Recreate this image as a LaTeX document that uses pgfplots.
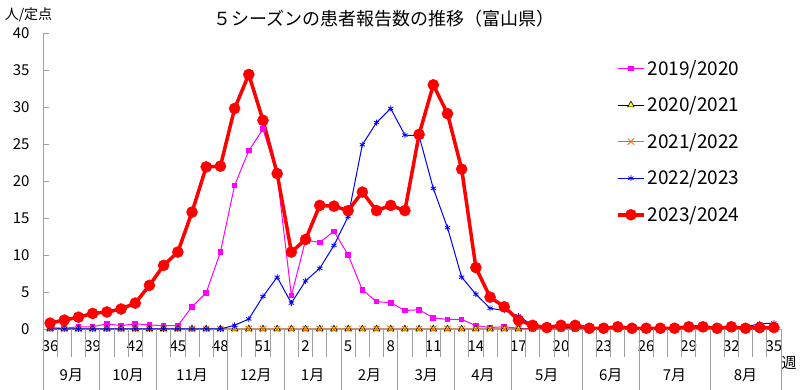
\documentclass[border=0pt]{standalone}
\usepackage{fontspec}
\setmainfont{Noto Sans CJK JP}
\usepackage{pgfplots}
\pgfplotsset{compat=1.18}
\definecolor{cmag}{RGB}{255,0,255}
\definecolor{corange}{RGB}{255,102,0}
\definecolor{cblue}{RGB}{0,0,255}
\definecolor{cred}{RGB}{255,0,0}
\definecolor{cyel}{RGB}{255,255,0}
\definecolor{caxis}{RGB}{160,160,160}
\begin{document}
\begin{tikzpicture}
\useasboundingbox (0,0) rectangle (800pt,390pt);
\node[font=\fontsize{18}{20}\selectfont] at (384pt,371pt) {５シーズンの患者報告数の推移（富山県）};
\node[font=\fontsize{14}{16}\selectfont] at (28.5pt,375pt) {人/定点};
\begin{axis}[
 at={(43pt,61pt)}, anchor=south west, width=738pt, height=296pt, scale only axis,
 xmin=-0.5, xmax=51.5, ymin=0, ymax=40, clip=false,
 axis x line=bottom, axis y line=left, axis line style={caxis,-},
 tick align=inside, major tick length=6pt,
 ytick={0,5,...,40}, ytick style={caxis},
 xtick={0,3,...,51},
 xticklabels={36,39,42,45,48,51,2,5,8,11,14,17,20,23,26,29,32,35},
 xtick style={draw=none},
 ticklabel style={font=\fontsize{15}{17}\selectfont},
 /pgf/number format/assume math mode=true,
 xticklabel style={anchor=base, yshift=-23pt},
 yticklabel style={anchor=east, xshift=-10pt},
 legend style={at={(rel axis cs:0.7764,0.909)}, anchor=north west, draw=none, fill=none,
   font=\fontsize{19}{22}\selectfont, row sep=20pt, inner sep=0pt,
   nodes={inner xsep=2pt, inner ysep=0pt}},
 legend cell align=left,
 legend image code/.code={\draw[mark repeat=2,mark phase=2,#1] plot coordinates {(0pt,0pt) (13pt,0pt) (26pt,0pt)};},
]
% 2019/2020
\addplot[cmag, line width=1pt, mark=square*, mark size=2.3pt, mark options={solid,fill=cmag}] coordinates {
(0,0.2)(1,0.1)(2,0.3)(3,0.3)(4,0.7)(5,0.45)(6,0.7)(7,0.55)(8,0.45)(9,0.45)
(10,3.0)(11,4.9)(12,10.4)(13,19.4)(14,24.1)(15,27.0)(16,20.8)(17,4.5)(18,12.0)(19,11.7)
(20,13.2)(21,10.0)(22,5.3)(23,3.7)(24,3.55)(25,2.5)(26,2.6)(27,1.5)(28,1.3)(29,1.3)
(30,0.45)(31,0.2)(32,0.3)(33,0.1)(34,0)(35,0)(36,0)(37,0)(38,0)(39,0)
(40,0)(41,0)(42,0)(43,0)(44,0)(45,0)(46,0)(47,0)(48,0)(49,0)(50,0)(51,0)};
\addlegendentry{2019/2020}
% 2020/2021
\addplot[black, line width=1pt, mark=triangle*, mark size=3.8pt, mark options={solid,fill=cyel,draw=black,line width=0.6pt}] coordinates {
(0,0)(1,0)(2,0)(3,0)(4,0)(5,0)(6,0)(7,0)(8,0)(9,0)
(10,0)(11,0)(12,0)(13,0)(14,0)(15,0)(16,0)(17,0)(18,0)(19,0)
(20,0)(21,0)(22,0)(23,0)(24,0)(25,0)(26,0)(27,0)(28,0)(29,0)
(30,0)(31,0)(32,0)(33,0)(34,0)(35,0)(36,0)(37,0)(38,0)(39,0)
(40,0)(41,0)(42,0)(43,0)(44,0)(45,0)(46,0)(47,0)(48,0)(49,0)(50,0)(51,0)};
\addlegendentry{2020/2021}
% 2021/2022
\addplot[corange, line width=1pt, mark=x, mark size=4.5pt, mark options={solid,line width=0.8pt}] coordinates {
(0,0)(1,0)(2,0)(3,0)(4,0)(5,0)(6,0)(7,0)(8,0)(9,0)
(10,0)(11,0)(12,0)(13,0)(14,0)(15,0)(16,0)(17,0)(18,0)(19,0)
(20,0)(21,0)(22,0)(23,0)(24,0)(25,0)(26,0)(27,0)(28,0)(29,0)
(30,0)(31,0)(32,0)(33,0)(34,0)(35,0)(36,0)(37,0)(38,0)(39,0)
(40,0)(41,0)(42,0)(43,0)(44,0)(45,0)(46,0)(47,0)(48,0)(49,0)(50,0)(51,0)};
\addlegendentry{2021/2022}
% 2022/2023
\addplot[cblue, line width=1pt, mark=asterisk, mark size=3pt, mark options={solid,line width=0.8pt}] coordinates {
(0,0)(1,0)(2,0)(3,0)(4,0)(5,0)(6,0)(7,0)(8,0)(9,0)
(10,0)(11,0)(12,0)(13,0.5)(14,1.35)(15,4.4)(16,7.0)(17,3.5)(18,6.5)(19,8.2)
(20,11.3)(21,15.2)(22,24.9)(23,27.9)(24,29.8)(25,26.2)(26,26.1)(27,19.0)(28,13.7)(29,7.0)
(30,4.7)(31,2.8)(32,2.5)(33,1.75)(34,0.5)(35,0.3)(36,0.2)(37,0.2)(38,0.2)(39,0.2)
(40,0.2)(41,0.2)(42,0.2)(43,0.2)(44,0.2)(45,0.2)(46,0.2)(47,0.2)(48,0.2)(49,0.3)(50,0.7)(51,0.8)};
\addlegendentry{2022/2023}
% 2023/2024
\addplot[cred, line width=3.5pt, mark=*, mark size=5.5pt, mark options={solid,fill=cred,line width=0.5pt}] coordinates {
(0,0.8)(1,1.2)(2,1.6)(3,2.1)(4,2.3)(5,2.7)(6,3.5)(7,5.9)(8,8.6)(9,10.4)
(10,15.8)(11,21.9)(12,22.0)(13,29.8)(14,34.4)(15,28.2)(16,21.0)(17,10.4)(18,12.1)(19,16.7)
(20,16.6)(21,16.0)(22,18.5)(23,16.0)(24,16.7)(25,16.0)(26,26.3)(27,33.0)(28,29.1)(29,21.6)
(30,8.3)(31,4.3)(32,3.0)(33,1.2)(34,0.5)(35,0.2)(36,0.5)(37,0.5)(38,0.1)(39,0.1)
(40,0.3)(41,0.1)(42,0.1)(43,0.1)(44,0.1)(45,0.3)(46,0.3)(47,0.1)(48,0.3)(49,0.1)(50,0.2)(51,0.2)};
\addlegendentry{2023/2024}
\end{axis}
% category boundary ticks
\foreach \i in {0,...,52} \draw[caxis, line width=0.8pt] ({43pt+\i*14.1923pt},61pt) -- ++(0,-28pt);
% month separators
\foreach \i in {0,4,8,13,17,21,25,29,33,38,42,47,52} \draw[caxis, line width=0.8pt] ({43pt+\i*14.1923pt},61pt) -- ({43pt+\i*14.1923pt},0pt);
\foreach \b/\m in {2/9月,6/10月,10.5/11月,15/12月,19/1月,23/2月,27/3月,31/4月,35.5/5月,40/6月,44.5/7月,49.5/8月}
  \node[font=\fontsize{15}{17}\selectfont] at ({43pt+\b*14.1923pt},15pt) {\m};
\node[font=\fontsize{15}{17}\selectfont] at (789pt,27pt) {週};
\end{tikzpicture}
\end{document}
